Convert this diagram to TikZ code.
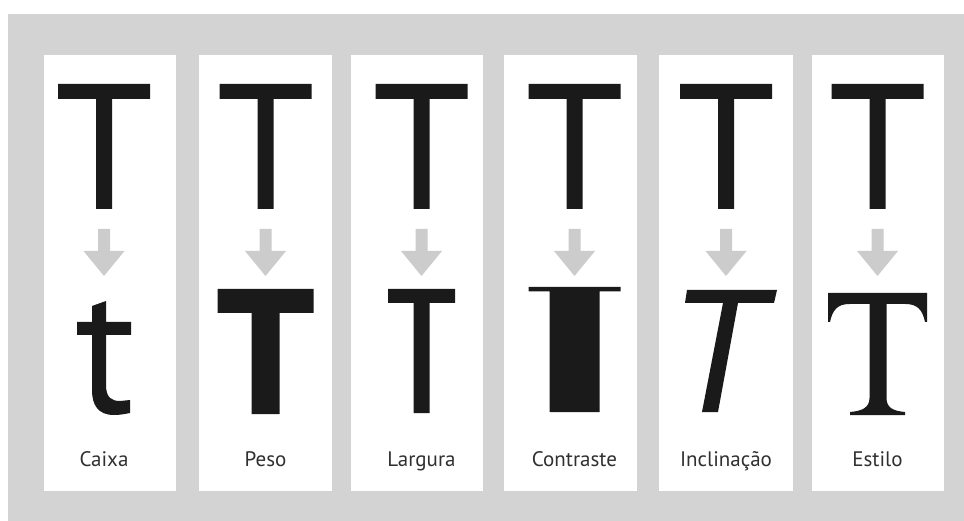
\documentclass[tikz,border=0pt]{standalone}
\usepackage{fontspec}
\newfontfamily\capfont{PT Sans}
\definecolor{bggray}{RGB}{211,211,211}
\definecolor{arrowgray}{RGB}{204,204,204}
\definecolor{ink}{RGB}{26,26,26}
\definecolor{capgray}{RGB}{48,48,48}

\begin{document}
\begin{tikzpicture}[x=1pt,y=-1pt,
  glyph/.style={fill=ink},
  downarrow/.style={fill=arrowgray},
  caption/.style={anchor=base,text=capgray,inner sep=0pt,
    font=\capfont\fontsize{21}{24}\selectfont}]
\useasboundingbox (0,0) rectangle (964,521);
\fill[bggray] (8,14) rectangle (964,521);

% panels
\foreach \l/\r in {44/176,199/332,351/483,504/637,659/793,812/944} {
  \fill[white] (\l,55) rectangle (\r,491);
}

% upright T and arrow in every panel
\foreach \cx in {104,265.5,421.5,574.5,726,877.5} {
  \begin{scope}[shift={(\cx,0)}]
  \fill[glyph] (-46,84) -- (46,84) -- (46,99) -- (8,99) -- (8,209) -- (-8,209)
    -- (-8,99) -- (-46,99) -- cycle;
  \fill[downarrow] (-6,229) -- (6,229) -- (6,251) -- (20.5,251) -- (0,276)
    -- (-20.5,251) -- (-6,251) -- cycle;
  \end{scope}
}

% caixa
\begin{scope}[shift={(104,0)}]
\fill[glyph] (-12,306) -- (2,301) -- (2,322) -- (27,322) -- (27,335) -- (2,335)
  -- (2,385) .. controls (2,398) and (8,401) .. (16,401) -- (26,400) -- (26,413)
  .. controls (21,414) and (16,415) .. (10,415)
  .. controls (-6,415) and (-12,405) .. (-12,390) -- (-12,335) -- (-27,335)
  -- (-27,322) -- (-12,322) -- cycle;
\end{scope}
% peso
\begin{scope}[shift={(265.5,0)}]
\fill[glyph] (-48,289) -- (48,289) -- (48,313) -- (14,313) -- (14,414) -- (-14,414)
  -- (-14,313) -- (-48,313) -- cycle;
\end{scope}
% largura
\begin{scope}[shift={(421.5,0)}]
\fill[glyph] (-33.5,289) -- (33.5,289) -- (33.5,303) -- (8,303) -- (8,413) -- (-8,413)
  -- (-8,303) -- (-33.5,303) -- cycle;
\end{scope}
% contraste
\begin{scope}[shift={(574.5,0)}]
\fill[glyph] (-46,287) -- (46,287) -- (46,291.5) -- (25,291.5) -- (25,412) -- (-25,412)
  -- (-25,291.5) -- (-46,291.5) -- cycle;
\end{scope}
% inclinacao
\begin{scope}[shift={(726,0)}]
\fill[glyph] (-39,290) -- (51,290) -- (48,303) -- (12,303) -- (-8,412) -- (-24,412)
  -- (-3,303) -- (-41,303) -- cycle;
\end{scope}
% estilo
\begin{scope}[shift={(877.5,0)}]
\fill[glyph] (-49.5,293) -- (49.5,293) -- (49.5,322) -- (47.5,322)
  .. controls (45,310) and (40,304) .. (28,304) -- (9,304) -- (9,398)
  .. controls (9,408) and (16,411) .. (27.5,412) -- (27.5,415) -- (-27.5,415)
  -- (-27.5,412) .. controls (-16,411) and (-8,408) .. (-8,398) -- (-8,304)
  -- (-28,304) .. controls (-40,304) and (-45,310) .. (-47.5,322) -- (-49.5,322)
  -- cycle;
\end{scope}

% captions
\node[caption] (caixa) at (104,466) {Caixa};
\node[caption] (peso) at (265.5,466) {Peso};
\node[caption] (largura) at (421.5,466) {Largura};
\node[caption] (contraste) at (574.5,466) {Contraste};
\node[caption] (inclinacao) at (726,466) {Inclinação};
\node[caption] (estilo) at (877.5,466) {Estilo};
\end{tikzpicture}
\end{document}
